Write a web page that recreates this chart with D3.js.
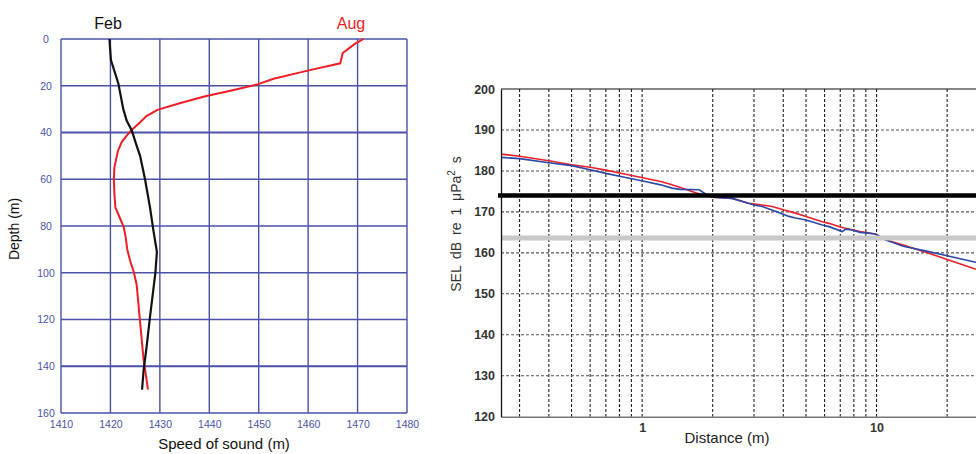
<!DOCTYPE html>
<html>
<head>
<meta charset="utf-8">
<script src="https://cdn.jsdelivr.net/npm/d3@7"></script>
<style>
body { margin: 0; background: #fff; }
svg { display: block; font-family: "Liberation Sans", Arial, sans-serif; }
</style>
</head>
<body>
<svg id="chart" width="976" height="454"></svg>
<script>
// --- left panel: sound speed profile ---
const speedTicks = [1410, 1420, 1430, 1440, 1450, 1460, 1470, 1480];
const depthTicks = [0, 20, 40, 60, 80, 100, 120, 140, 160];

const febDepth = [0, 9, 19, 30, 35, 39, 45, 50, 60, 72, 82, 91, 100, 119, 132, 142, 150];
const febSpeed = [1419.8, 1420.1, 1421.6, 1422.6, 1423.3, 1424.3, 1425.2, 1426.0, 1427.0, 1428.0, 1428.7, 1429.4, 1429.1, 1428.0, 1427.3, 1426.7, 1426.4];

const augDepth = [0, 2, 6, 10.4, 13, 14.5, 17, 19.5, 22, 24.6, 27.5, 30.3, 33, 36, 39.5, 44, 48, 55, 60, 66, 72, 77, 80.5, 85, 90, 95, 99.5, 105, 121, 137, 150];
const augSpeed = [1471.2, 1469.5, 1467.0, 1466.5, 1461, 1458, 1453, 1449.6, 1444.5, 1439, 1434, 1429.5, 1427.3, 1425.8, 1424.0, 1422.3, 1421.5, 1420.8, 1420.7, 1420.8, 1421.0, 1422.0, 1422.7, 1423.1, 1423.4, 1424.0, 1424.7, 1425.3, 1426.0, 1426.7, 1427.6];

// --- right panel: SEL vs distance ---
const selTicks = [120, 130, 140, 150, 160, 170, 180, 190, 200];
const distTicks = [1, 10];
const distGrid = [0.3, 0.4, 0.5, 0.6, 0.7, 0.8, 0.9, 1, 2, 3, 4, 5, 6, 7, 8, 9, 10, 20, 30, 40, 50, 60, 70, 80, 90];

const redDist = [0.25, 0.3, 0.4, 0.5, 0.6, 0.7, 0.85, 1.03, 1.2, 1.34, 1.5, 1.69, 1.8, 2.0, 2.42, 2.85, 3.25, 3.59, 4.0, 4.51, 5.0, 5.87, 6.27, 7.0, 7.62, 8.5, 9.9, 10.9, 13, 16.7, 20, 25.6, 30];
const redSel = [184.1, 183.6, 182.5, 181.5, 180.9, 180.2, 179.2, 178.2, 177.4, 176.6, 175.7, 174.7, 174.2, 173.6, 173.3, 172.1, 171.7, 171.3, 170.5, 169.7, 168.9, 167.6, 167.2, 166.3, 165.8, 165.2, 164.6, 163.2, 161.9, 159.9, 158.4, 156.3, 155.0];

const blueDist = [0.25, 0.3, 0.4, 0.5, 0.6, 0.7, 0.85, 1.03, 1.2, 1.34, 1.45, 1.75, 1.85, 2.0, 2.42, 3.0, 3.25, 3.6, 4.0, 4.23, 4.51, 5.0, 5.87, 6.27, 7.14, 7.4, 7.88, 8.5, 9.9, 10.9, 13, 16.7, 20, 25.6, 30];
const blueSel = [183.3, 183.0, 182.0, 181.3, 180.3, 179.4, 178.4, 177.4, 176.6, 175.8, 175.5, 175.4, 174.5, 173.6, 173.3, 171.7, 171.3, 170.4, 169.4, 168.9, 168.5, 168.0, 166.8, 166.4, 165.2, 165.8, 165.6, 165.0, 164.6, 163.2, 161.6, 160.3, 159.3, 157.9, 157.0];

const limitValues = [174, 163.6];
const limitColors = ['#000', '#c8c8c8'];
const limitWidths = [4.5, 5];

const svg = d3.select('#chart');
svg.append('rect').attr('width', 976).attr('height', 454).attr('fill', '#fff');

// ================= left panel =================
const gridBlue = '#4a52a8';
const xs = d3.scaleLinear().domain([1410, 1480]).range([61, 407]);
const yd = d3.scaleLinear().domain([0, 160]).range([39, 413]);

const left = svg.append('g');

left.selectAll('line.vgrid')
    .data(speedTicks)
    .enter()
    .append('line')
    .attr('x1', d => xs(d)).attr('x2', d => xs(d))
    .attr('y1', yd(0)).attr('y2', yd(160))
    .attr('stroke', gridBlue)
    .attr('stroke-width', 1.4);

left.selectAll('line.hgrid')
    .data(depthTicks)
    .enter()
    .append('line')
    .attr('x1', xs(1410)).attr('x2', xs(1480))
    .attr('y1', d => yd(d)).attr('y2', d => yd(d))
    .attr('stroke', gridBlue)
    .attr('stroke-width', d => (d === 40 || d === 140) ? 2.2 : 1.4);

// tick labels
const xAxisL = left.append('g')
    .attr('transform', `translate(0,${yd(160) + 5})`)
    .call(d3.axisBottom(xs).tickValues(speedTicks).tickSize(0).tickFormat(d3.format('d')));
const yAxisL = left.append('g')
    .attr('transform', `translate(${xs(1410) - 12},0)`)
    .call(d3.axisLeft(yd).tickValues(depthTicks).tickSize(0));
[xAxisL, yAxisL].forEach(a => {
    a.select('.domain').remove();
    a.selectAll('text').attr('fill', gridBlue).style('font-size', '10.5px');
});
yAxisL.selectAll('text').attr('text-anchor', 'middle');

const profileLine = d3.line().x(d => xs(d[1])).y(d => yd(d[0]));

left.append('path')
    .datum(augDepth.map((d, i) => [d, augSpeed[i]]))
    .attr('d', profileLine)
    .attr('fill', 'none')
    .attr('stroke', '#ee1c24')
    .attr('stroke-width', 2);

left.append('path')
    .datum(febDepth.map((d, i) => [d, febSpeed[i]]))
    .attr('d', profileLine)
    .attr('fill', 'none')
    .attr('stroke', '#111')
    .attr('stroke-width', 2.2);

left.append('text')
    .attr('x', 108).attr('y', 29)
    .attr('text-anchor', 'middle')
    .style('font-size', '16px')
    .attr('fill', '#111')
    .text('Feb');

left.append('text')
    .attr('x', 351).attr('y', 29)
    .attr('text-anchor', 'middle')
    .style('font-size', '16px')
    .attr('fill', '#ee1c24')
    .text('Aug');

left.append('text')
    .attr('transform', 'translate(19,229) rotate(-90)')
    .attr('text-anchor', 'middle')
    .style('font-size', '14px')
    .attr('fill', '#111')
    .text('Depth (m)');

left.append('text')
    .attr('x', 224).attr('y', 449)
    .attr('text-anchor', 'middle')
    .style('font-size', '15px')
    .attr('fill', '#111')
    .text('Speed of sound (m)');

// ================= right panel =================
const xl = d3.scaleLog().domain([0.25, 100]).range([501, 1111]);
const ys = d3.scaleLinear().domain([120, 200]).range([416.7, 89]);

const right = svg.append('g');

right.selectAll('line.vgrid')
    .data(distGrid)
    .enter()
    .append('line')
    .attr('x1', d => xl(d)).attr('x2', d => xl(d))
    .attr('y1', ys(200)).attr('y2', ys(120))
    .attr('stroke', '#222')
    .attr('stroke-width', 1.1)
    .attr('stroke-dasharray', '3,2');

right.selectAll('line.hgrid')
    .data(selTicks.slice(1, -1))
    .enter()
    .append('line')
    .attr('x1', xl(0.25)).attr('x2', xl(100))
    .attr('y1', d => ys(d)).attr('y2', d => ys(d))
    .attr('stroke', '#555')
    .attr('stroke-width', 1.1)
    .attr('stroke-dasharray', '3,2');

const selLine = d3.line().x(d => xl(d[0])).y(d => ys(d[1]));

right.append('path')
    .datum(redDist.map((d, i) => [d, redSel[i]]))
    .attr('d', selLine)
    .attr('fill', 'none')
    .attr('stroke', '#e8202a')
    .attr('stroke-width', 1.6);

right.append('path')
    .datum(blueDist.map((d, i) => [d, blueSel[i]]))
    .attr('d', selLine)
    .attr('fill', 'none')
    .attr('stroke', '#2a48a8')
    .attr('stroke-width', 1.6);

// threshold lines over the curves
right.selectAll('line.limit')
    .data(limitValues)
    .enter()
    .append('line')
    .attr('x1', (d, i) => xl(0.25) - (i === 0 ? 3 : 0)).attr('x2', xl(100))
    .attr('y1', d => ys(d)).attr('y2', d => ys(d))
    .attr('stroke', (d, i) => limitColors[i])
    .attr('stroke-width', (d, i) => limitWidths[i]);

// frame
right.append('line')
    .attr('x1', xl(0.25)).attr('x2', xl(100))
    .attr('y1', ys(200)).attr('y2', ys(200))
    .attr('stroke', '#111').attr('stroke-width', 1.2);

const xAxisR = right.append('g')
    .attr('transform', `translate(0,${ys(120)})`)
    .call(d3.axisBottom(xl).tickValues(distTicks).tickSize(0).tickPadding(6).tickFormat(d3.format('d')));
xAxisR.select('.domain').attr('stroke', '#777').attr('stroke-width', 1.5);

const yAxisR = right.append('g')
    .attr('transform', `translate(${xl(0.25)},0)`)
    .call(d3.axisLeft(ys).tickValues(selTicks).tickSize(0).tickPadding(6));
yAxisR.select('.domain').attr('stroke', '#111').attr('stroke-width', 1.3);

[xAxisR, yAxisR].forEach(a => {
    a.selectAll('text')
        .attr('fill', '#333')
        .style('font-size', '12.5px')
        .style('font-weight', 'bold');
});

right.append('text')
    .attr('x', 727).attr('y', 443)
    .attr('text-anchor', 'middle')
    .style('font-size', '15px')
    .attr('fill', '#222')
    .text('Distance (m)');

const yLabel = right.append('text')
    .attr('transform', 'translate(461,224) rotate(-90)')
    .attr('text-anchor', 'middle')
    .style('font-size', '14px')
    .style('word-spacing', '3px')
    .attr('fill', '#333');
yLabel.append('tspan').text('SEL dB re 1 \u03bcPa');
yLabel.append('tspan').attr('dy', -6).style('font-size', '10px').text('2');
yLabel.append('tspan').attr('dy', 6).text(' s');
</script>
</body>
</html>
